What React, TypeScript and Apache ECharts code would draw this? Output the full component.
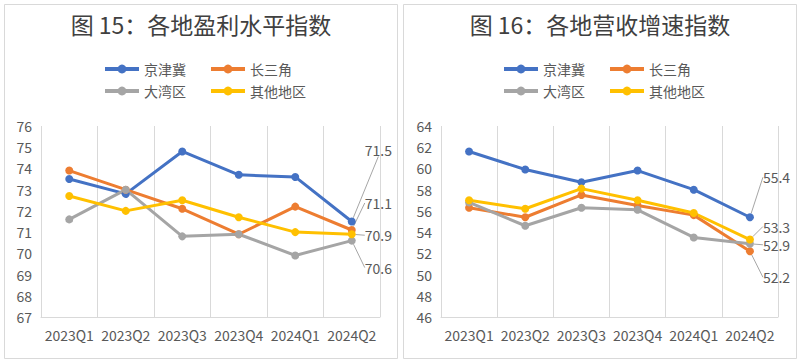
import React, { useEffect, useRef } from "react";
import * as echarts from "echarts";

const categories = ["2023Q1", "2023Q2", "2023Q3", "2023Q4", "2024Q1", "2024Q2"];
const seriesNames = ["京津冀", "长三角", "大湾区", "其他地区"];
const colors = ["#4472C4", "#ED7D31", "#A5A5A5", "#FFC000"];

const titleLeft = "图 15：各地盈利水平指数";
const titleRight = "图 16：各地营收增速指数";

// 图15 各地盈利水平指数
const profitJJJ = [73.5, 72.8, 74.8, 73.7, 73.6, 71.5];
const profitCSJ = [73.9, 73.0, 72.1, 70.9, 72.2, 71.1];
const profitDWQ = [71.6, 73.0, 70.8, 70.9, 69.9, 70.6];
const profitQT = [72.7, 72.0, 72.5, 71.7, 71.0, 70.9];

// 图16 各地营收增速指数
const revenueJJJ = [61.6, 59.9, 58.7, 59.8, 58.0, 55.4];
const revenueCSJ = [56.3, 55.4, 57.5, 56.5, 55.6, 52.2];
const revenueDWQ = [56.8, 54.6, 56.3, 56.1, 53.5, 52.9];
const revenueQT = [57.0, 56.2, 58.1, 57.0, 55.8, 53.3];

const profitAxis = { min: 67, max: 76, interval: 1 };
const revenueAxis = { min: 46, max: 64, interval: 2 };

const FONT = "'Noto Sans CJK SC', 'Noto Sans', sans-serif";
const TEXT = "#595959";
const GRIDLINE = "#D9D9D9";

function makeSeries(
  values: number[],
  idx: number,
  axisIndex: number,
  labelDy: number,
  labelDx: number
) {
  return {
    type: "line",
    name: seriesNames[idx],
    xAxisIndex: axisIndex,
    yAxisIndex: axisIndex,
    data: values.map((v, i) =>
      i === values.length - 1 ? { value: v, label: { show: true } } : v
    ),
    symbol: "circle",
    symbolSize: 8,
    color: colors[idx],
    lineStyle: { width: 3, color: colors[idx] },
    itemStyle: { color: colors[idx] },
    label: {
      show: false,
      position: "right",
      color: TEXT,
      fontSize: 14,
      fontFamily: FONT,
      formatter: (p: any) => Number(p.value).toFixed(1),
    },
    labelLine: { show: true, lineStyle: { color: "#A6A6A6", width: 1 } },
    labelLayout: { dx: labelDx, dy: labelDy },
  };
}

function legendRow(names: string[], left: number, top: number) {
  return {
    data: names,
    left,
    top,
    orient: "horizontal",
    itemWidth: 34,
    itemHeight: 11,
    itemGap: 23,
    padding: 0,
    selectedMode: false,
    lineStyle: { width: 4 },
    textStyle: { color: TEXT, fontSize: 14, fontFamily: FONT },
  };
}

export default function App() {
  const ref = useRef<HTMLDivElement>(null);

  useEffect(() => {
    if (!ref.current) return;
    const chart = echarts.init(ref.current, undefined, { renderer: "svg" });

    const xAxisBase = {
      type: "category",
      data: categories,
      boundaryGap: true,
      axisLine: { show: true, lineStyle: { color: GRIDLINE, width: 1 } },
      axisTick: { show: false },
      splitLine: { show: true, lineStyle: { color: GRIDLINE, width: 1 } },
      axisLabel: { color: TEXT, fontSize: 14, fontFamily: FONT, margin: 11, interval: 0 },
    };
    const yAxisBase = {
      type: "value",
      axisLine: { show: false },
      axisTick: { show: false },
      splitLine: { show: false },
      axisLabel: { color: TEXT, fontSize: 14, fontFamily: FONT, margin: 9 },
    };

    const titleStyle = { fontSize: 23, fontWeight: "normal", color: "#404040", fontFamily: FONT };

    chart.setOption({
      animation: false,
      backgroundColor: "#ffffff",
      textStyle: { fontFamily: FONT },
      title: [
        { text: titleLeft, left: 201, top: 12, textAlign: "center", padding: 0, textStyle: titleStyle },
        { text: titleRight, left: 600, top: 12, textAlign: "center", padding: 0, textStyle: titleStyle },
      ],
      legend: [
        legendRow([seriesNames[0], seriesNames[1]], 103, 62),
        legendRow([seriesNames[2], seriesNames[3]], 103, 84),
        legendRow([seriesNames[0], seriesNames[1]], 502, 62),
        legendRow([seriesNames[2], seriesNames[3]], 502, 84),
      ],
      grid: [
        { left: 41, right: 420, top: 126, bottom: 44 },
        { left: 441, right: 22, top: 126, bottom: 44 },
      ],
      xAxis: [
        { ...xAxisBase, gridIndex: 0 },
        { ...xAxisBase, gridIndex: 1 },
      ],
      yAxis: [
        { ...yAxisBase, gridIndex: 0, ...profitAxis },
        { ...yAxisBase, gridIndex: 1, ...revenueAxis },
      ],
      graphic: [
        {
          type: "rect",
          shape: { x: 4.5, y: 4.5, width: 393, height: 354 },
          style: { fill: "none", stroke: GRIDLINE, lineWidth: 1 },
          silent: true,
        },
        {
          type: "rect",
          shape: { x: 403.5, y: 4.5, width: 393, height: 354 },
          style: { fill: "none", stroke: GRIDLINE, lineWidth: 1 },
          silent: true,
        },
      ],
      series: [
        makeSeries(profitJJJ, 0, 0, -72, 4),
        makeSeries(profitCSJ, 1, 0, -27, 4),
        makeSeries(profitDWQ, 2, 0, 27, 4),
        makeSeries(profitQT, 3, 0, 1, 4),
        makeSeries(revenueJJJ, 0, 1, -40, 4),
        makeSeries(revenueCSJ, 1, 1, 26, 4),
        makeSeries(revenueDWQ, 2, 1, 1, 4),
        makeSeries(revenueQT, 3, 1, -13, 4),
      ],
    });

    return () => chart.dispose();
  }, []);

  return (
    <div
      ref={ref}
      style={{ position: "absolute", left: 0, top: 0, width: 800, height: 361 }}
    />
  );
}
